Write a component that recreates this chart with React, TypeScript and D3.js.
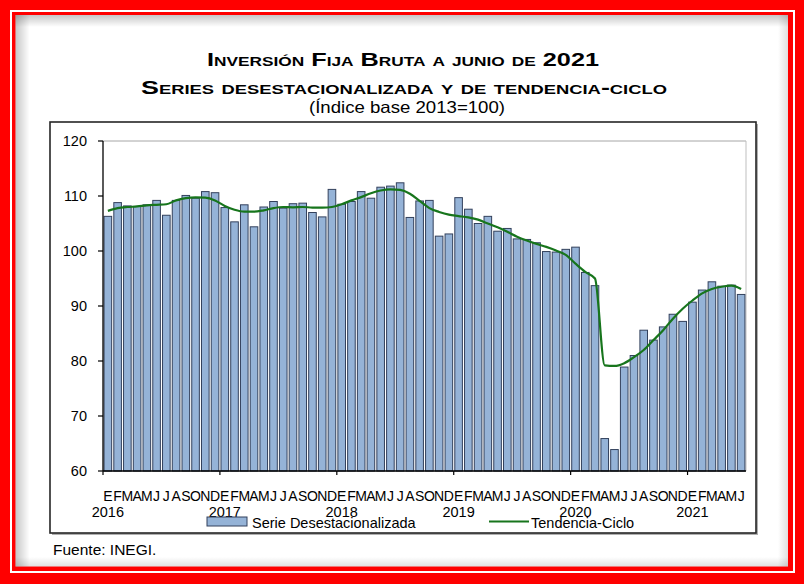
import React from "react";
import * as d3 from "d3";

const monthLetters = ["E", "F", "M", "A", "M", "J", "J", "A", "S", "O", "N", "D"];
const years = ["2016", "2017", "2018", "2019", "2020", "2021"];

const serieDesestacionalizada = [
  106.3, 108.8, 108.2, 108.1, 108.4, 109.2, 106.5, 109.2, 110.1, 109.6, 110.8, 110.6,
  107.9, 105.3, 108.4, 104.4, 108.0, 109.0, 107.8, 108.6, 108.7, 107.0, 106.2, 111.2,
  108.5, 109.0, 110.8, 109.6, 111.6, 111.8, 112.4, 106.1, 109.1, 109.2, 102.7, 103.1,
  109.7, 107.6, 105.0, 106.3, 103.6, 104.1, 102.2, 102.1, 101.5, 99.9, 99.8, 100.3,
  100.7, 96.1, 93.7, 65.9, 63.9, 78.9, 81.0, 85.6, 83.8, 86.2, 88.5, 87.2,
  90.7, 92.9, 94.4, 93.6, 93.8, 92.1,
];

const tendenciaCiclo = [
  107.3, 107.8, 108.0, 108.1, 108.3, 108.4, 108.5, 109.2, 109.6, 109.75, 109.7, 109.2,
  108.2, 107.5, 107.15, 107.15, 107.4, 107.8, 108.0, 107.95, 108.0, 107.9, 107.9, 108.0,
  108.5, 109.2, 109.8, 110.5, 111.0, 111.2, 111.1, 110.4, 109.1, 107.8, 107.1, 106.6,
  106.35, 106.1, 105.7, 105.0, 104.3, 103.5, 102.6, 101.9, 101.3, 100.75, 100.1, 99.3,
  97.7, 96.2, 95.0, 79.2, 79.1, 79.6, 80.7, 82.0, 83.8, 85.6, 87.7, 89.5,
  91.0, 92.3, 93.1, 93.5, 93.7, 93.1,
];

const yTicks = [60, 70, 80, 90, 100, 110, 120];

const FONT = "'Liberation Sans', Arial, sans-serif";

export default function App() {
  const W = 804;
  const H = 584;
  const n = serieDesestacionalizada.length;
  const idx = d3.range(n);
  const x = d3
    .scaleBand<number>()
    .domain(idx)
    .range([103, 746])
    .paddingInner(0.22)
    .paddingOuter(0.11);
  const step = x.step();
  const cx = (i: number) => (x(i) as number) + x.bandwidth() / 2;
  const y = d3.scaleLinear().domain([60, 120]).range([471, 141]);

  const line = d3
    .line<number>()
    .x((_, i) => cx(i))
    .y((d) => y(d))
    .curve(d3.curveMonotoneX);

  const yearStarts = years.map((_, k) => k * 12);
  const tickXs = [0, 12, 24, 36, 48, 60].map((i) => 103 + i * step);

  const shadeSteps = d3.range(8);

  return (
    <svg
      width={W}
      height={H}
      style={{ position: "fixed", left: 0, top: 0, display: "block" }}
      fontFamily={FONT}
    >
      <defs>
        <linearGradient id="shL" x1="0" x2="1" y1="0" y2="0">
          <stop offset="0" stopColor="#000" stopOpacity="0.22" />
          <stop offset="1" stopColor="#000" stopOpacity="0" />
        </linearGradient>
        <linearGradient id="shT" x1="0" x2="0" y1="0" y2="1">
          <stop offset="0" stopColor="#000" stopOpacity="0.22" />
          <stop offset="1" stopColor="#000" stopOpacity="0" />
        </linearGradient>
        <linearGradient id="shR" x1="1" x2="0" y1="0" y2="0">
          <stop offset="0" stopColor="#000" stopOpacity="0.12" />
          <stop offset="1" stopColor="#000" stopOpacity="0" />
        </linearGradient>
        <linearGradient id="shB" x1="0" x2="0" y1="1" y2="0">
          <stop offset="0" stopColor="#000" stopOpacity="0.12" />
          <stop offset="1" stopColor="#000" stopOpacity="0" />
        </linearGradient>
      </defs>

      {/* outer red frame */}
      <rect x={0} y={0} width={W} height={H} fill="#ff0000" />
      <rect x={10} y={10} width={785} height={563} fill="#ffffff" />
      <rect x={12} y={12} width={781} height={559} fill="#ff0000" />
      <rect x={15.5} y={15} width={772.5} height={551.5} fill="#ffffff" />
      {/* inner bevel shading */}
      <rect x={15.5} y={15} width={14} height={551.5} fill="url(#shL)" />
      <rect x={15.5} y={15} width={772.5} height={12} fill="url(#shT)" />
      <rect x={778} y={15} width={10} height={551.5} fill="url(#shR)" />
      <rect x={15.5} y={557} width={772.5} height={9.5} fill="url(#shB)" />

      {/* title */}
      <text
        x={403}
        y={66}
        textAnchor="middle"
        fontWeight="bold"
        fontSize={19}
        style={{ fontVariant: "small-caps" }}
        textLength={392}
        lengthAdjust="spacingAndGlyphs"
        fill="#000"
      >
        Inversión Fija Bruta a junio de 2021
      </text>
      <text
        x={404}
        y={94}
        textAnchor="middle"
        fontWeight="bold"
        fontSize={19}
        style={{ fontVariant: "small-caps" }}
        textLength={526}
        lengthAdjust="spacingAndGlyphs"
        fill="#000"
      >
        Series desestacionalizada y de tendencia-ciclo
      </text>
      <text
        x={407}
        y={113}
        textAnchor="middle"
        fontSize={16.5}
        textLength={196}
        lengthAdjust="spacingAndGlyphs"
        fill="#000"
      >
        (Índice base 2013=100)
      </text>

      {/* chart frame */}
      <rect x={52} y={124} width={706} height={411} fill="#7a7a7a" opacity={0.6} />
      <rect x={50} y={122} width={706} height={411} fill="#ffffff" stroke="#262626" strokeWidth={1.6} />

      {/* plot area border (top/right) */}
      <line x1={103} x2={746} y1={y(120)} y2={y(120)} stroke="#a6a6a6" strokeWidth={1} />
      <line x1={746} x2={746} y1={y(120)} y2={y(60)} stroke="#bfbfbf" strokeWidth={1} />

      {/* bars */}
      {serieDesestacionalizada.map((v, i) => (
        <rect
          key={i}
          x={x(i) as number}
          y={y(v)}
          width={x.bandwidth()}
          height={y(60) - y(v)}
          fill="#95b3d7"
          stroke="#33415c"
          strokeWidth={1}
        />
      ))}

      {/* trend line */}
      <path d={line(tendenciaCiclo) || ""} fill="none" stroke="#17751c" strokeWidth={2.2} />

      {/* axes */}
      <line x1={103} x2={103} y1={y(120)} y2={y(60)} stroke="#000" strokeWidth={1.3} />
      <line x1={103} x2={746} y1={y(60)} y2={y(60)} stroke="#000" strokeWidth={1.3} />
      {yTicks.map((t) => (
        <g key={t}>
          <line x1={98} x2={103} y1={y(t)} y2={y(t)} stroke="#000" strokeWidth={1.2} />
          <text x={87} y={y(t) + 5} textAnchor="end" fontSize={14.5} fill="#000">
            {t}
          </text>
        </g>
      ))}
      {tickXs.map((tx, k) => (
        <line key={k} x1={tx} x2={tx} y1={y(60)} y2={y(60) + 4} stroke="#000" strokeWidth={1.2} />
      ))}
      {idx.map((i) => (
        <text key={i} x={cx(i)} y={501} textAnchor="middle" fontSize={14} fill="#000">
          {monthLetters[i % 12]}
        </text>
      ))}
      {yearStarts.map((i, k) => (
        <text key={k} x={cx(i)} y={517} textAnchor="middle" fontSize={14.5} fill="#000">
          {years[k]}
        </text>
      ))}

      {/* legend */}
      <rect x={207} y={517} width={40} height={9} fill="#95b3d7" stroke="#33415c" strokeWidth={1} />
      <text x={252} y={528} fontSize={14.5} fill="#000">
        Serie Desestacionalizada
      </text>
      <line x1={489} x2={529} y1={521.5} y2={521.5} stroke="#17751c" strokeWidth={2.2} />
      <text x={531} y={528} fontSize={14.5} fill="#000">
        Tendencia-Ciclo
      </text>

      {/* source */}
      <text x={53} y={555} fontSize={15.5} fill="#000">
        Fuente: INEGI.
      </text>
    </svg>
  );
}
